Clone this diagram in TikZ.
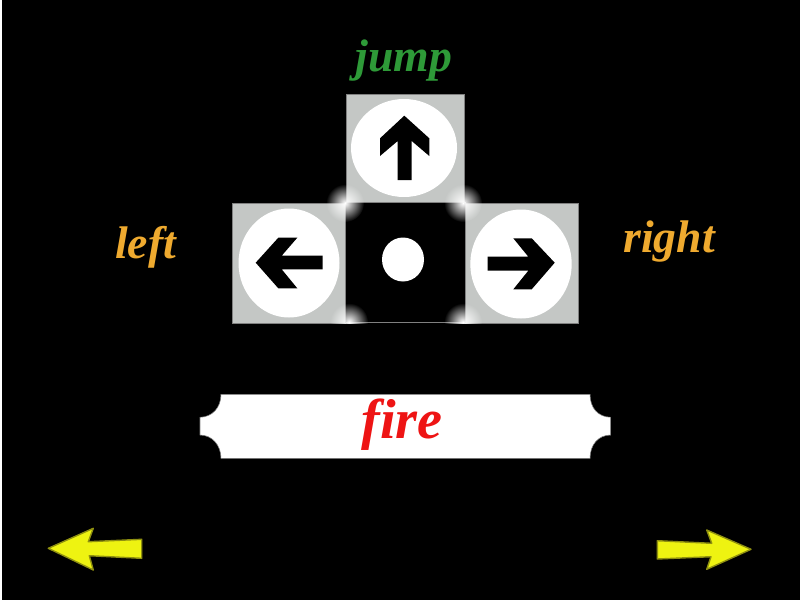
\documentclass[tikz,border=0pt]{standalone}
\usepackage{fontspec}
\usepackage{xcolor}
\setmainfont{Liberation Serif}
\usetikzlibrary{fadings}
\definecolor{keygray}{HTML}{C4C7C5}
\definecolor{jumpgreen}{HTML}{2E9A38}
\definecolor{sideorange}{HTML}{EFAA2F}
\definecolor{firered}{HTML}{EE1414}
\definecolor{navyellow}{HTML}{EEF311}
\definecolor{navedge}{HTML}{8F9010}
\tikzfading[name=glowfade, inner color=transparent!0, outer color=transparent!100]
\tikzset{
    keybox/.style={fill=keygray, draw=gray, line width=0.15pt},
    keyface/.style={fill=white, draw=none},
    keyglyph/.style={fill=black, draw=none},
    glow/.style={fill=white, path fading=glowfade},
    navarrow/.style={fill=navyellow, draw=navedge, line width=0.4pt, line join=round},
    keylabel/.style={inner sep=0pt}
}
\begin{document}
\begin{tikzpicture}[x=0.1mm, y=-0.1mm]
    \useasboundingbox (0,0) rectangle (800,600);
    \fill[black] (0,0) rectangle (800,600);
    \fill[white] (0,0) rectangle (2,600);

    % the four keys
    \draw[keybox] (346,94) rectangle (464,202);
    \draw[keybox] (232,203) rectangle (345,323);
    \draw[keybox] (465,203) rectangle (578,323);
    \draw[fill=black, draw=gray, line width=0.15pt] (345,202) rectangle (465,322);

    \fill[keyface] (404,148) ellipse (53 and 49);
    \fill[keyface] (289,263) ellipse (50.5 and 54.5);
    \fill[keyface] (521,264) ellipse (50.7 and 54.5);
    \fill[keyface] (403,259.5) ellipse (21 and 22);

    \fill[keyglyph] (404.3,115.7) -- (429.3,138.3) -- (429.3,156) -- (411.7,141) -- (411.7,180) -- (397.7,180) -- (397.7,141) -- (380,156) -- (380,138.3) -- cycle;
    \fill[keyglyph] (255.7,262.7) -- (278.3,237.7) -- (297.3,237.7) -- (281.7,255.7) -- (322.7,255.7) -- (322.7,269.3) -- (281.7,269.3) -- (297.3,288.3) -- (278.3,288.3) -- cycle;
    \fill[keyglyph] (554.7,262.7) -- (531.7,238.3) -- (513.3,238.3) -- (528.3,256.7) -- (487.7,256.7) -- (487.7,270.7) -- (528.3,270.7) -- (513.3,289.3) -- (531.7,289.3) -- cycle;

    % glow at the corners of the middle key
    \begin{scope}
        \clip (0,0) rectangle (800,323);
        \foreach \gx/\gy in {345/203, 463/203, 349/322, 463/322}
            \fill[glow] (\gx,\gy) circle (19);
    \end{scope}

    % fire bar
    \fill[white, draw=gray, line width=0.15pt] (221,394.3) -- (590,394.3) .. controls (590,408) and (598,417) .. (610.7,417.3) -- (610.7,435) .. controls (598,435) and (590,445) .. (590,458.3) -- (221,458.3) .. controls (221,445) and (212,435) .. (200,435) -- (200,417.3) .. controls (212,417) and (221,408) .. (221,394.3) -- cycle;

    \node[keylabel, text=jumpgreen, font=\bfseries\itshape\fontsize{13}{13}\selectfont] (jump) at (404,61) {jump};
    \node[keylabel, text=sideorange, font=\bfseries\itshape\fontsize{13}{13}\selectfont] (left) at (145.5,247) {left};
    \node[keylabel, text=sideorange, font=\bfseries\itshape\fontsize{13}{13}\selectfont] (right) at (669,242) {right};
    \node[keylabel, text=firered, font=\bfseries\itshape\fontsize{16}{16}\selectfont] (fire) at (402,425) {fire};

    % page arrows
    \draw[navarrow] (48.3,548.3) -- (93.3,528.3) -- (88.3,541.7) -- (141.7,539.3) -- (141.7,558.3) -- (89.3,555.7) -- (93.3,570) -- cycle;
    \draw[navarrow] (657.3,540.7) -- (711.7,543.3) -- (706.7,530) -- (751,549.3) -- (706.7,569.3) -- (711,556.7) -- (657.3,559) -- cycle;
\end{tikzpicture}
\end{document}
